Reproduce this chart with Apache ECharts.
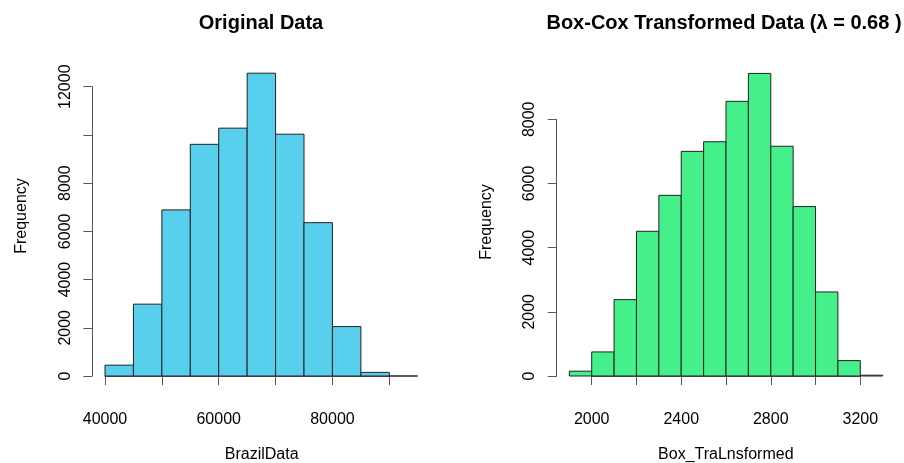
<!DOCTYPE html>
<html>
<head>
<meta charset="utf-8">
<script src="https://cdn.jsdelivr.net/npm/echarts@6/dist/echarts.min.js"></script>
<style>
html,body{margin:0;padding:0;background:#fff;}
#chart{width:904px;height:463px;}
</style>
</head>
<body>
<div id="chart"></div>
<script>
// ---- Data ----
const leftTitle = 'Original Data';
const rightTitle = 'Box-Cox Transformed Data (λ = 0.68 )';
const leftXName = 'BrazilData';
const rightXName = 'Box_TraLnsformed';
const yName = 'Frequency';

const leftBreaks = [40000, 45000, 50000, 55000, 60000, 65000, 70000, 75000, 80000, 85000, 90000, 95000];
const leftCounts = [450, 2980, 6890, 9610, 10280, 12560, 10030, 6360, 2050, 150, 0];

const rightBreaks = [1900, 2000, 2100, 2200, 2300, 2400, 2500, 2600, 2700, 2800, 2900, 3000, 3100, 3200, 3300];
const rightCounts = [150, 750, 2380, 4510, 5630, 7000, 7300, 8560, 9430, 7160, 5280, 2620, 480, 25];

const leftXLabels = [40000, 60000, 80000];
const leftYLabels = [0, 2000, 4000, 6000, 8000, 12000];
const rightXLabels = [2000, 2400, 2800, 3200];
const rightYLabels = [0, 2000, 4000, 6000, 8000];

// ---- Build ----
function toBins(breaks, counts) {
  return counts.map((c, i) => [breaks[i], breaks[i + 1], c]);
}
const FONT = 'Liberation Sans, Arial, sans-serif';
const axisColor = '#5a5a5a';

function renderer(fill) {
  return function (params, api) {
    const p0 = api.coord([api.value(0), api.value(2)]);
    const p1 = api.coord([api.value(1), 0]);
    return {
      type: 'rect',
      shape: { x: p0[0], y: p0[1], width: p1[0] - p0[0], height: p1[1] - p0[1] },
      style: { fill: fill, stroke: '#222', lineWidth: 1 }
    };
  };
}
function labelFmt(list) {
  return function (v) { return list.indexOf(v) >= 0 ? String(v) : ''; };
}
function xAxisCfg(idx, min, max, interval, labels) {
  return {
    type: 'value', gridIndex: idx, min: min, max: max, interval: interval,
    offset: 13.3, splitLine: { show: false },
    axisLine: { show: true, lineStyle: { color: axisColor, width: 1 } },
    axisTick: { show: true, length: 9, lineStyle: { color: axisColor } },
    axisLabel: { color: '#000', fontSize: 16, fontFamily: FONT, margin: 22, formatter: labelFmt(labels) }
  };
}
function yAxisCfg(idx, max, offset, labels) {
  return {
    type: 'value', gridIndex: idx, min: 0, max: max, interval: 2000,
    offset: offset, splitLine: { show: false },
    axisLine: { show: true, lineStyle: { color: axisColor, width: 1 } },
    axisTick: { show: true, length: 9, lineStyle: { color: axisColor } },
    axisLabel: { color: '#000', fontSize: 16, fontFamily: FONT, rotate: 90, margin: 19, formatter: labelFmt(labels) }
  };
}

const chart = echarts.init(document.getElementById('chart'), null, { renderer: 'canvas' });
chart.setOption({
  backgroundColor: '#fff',
  animation: false,
  title: [
    { text: leftTitle, left: 261, top: 13, textAlign: 'center', padding: 0,
      textStyle: { fontSize: 20, fontWeight: 'bold', color: '#000', fontFamily: FONT } },
    { text: rightTitle, left: 724, top: 13, textAlign: 'center', padding: 0,
      textStyle: { fontSize: 20, fontWeight: 'bold', color: '#000', fontFamily: FONT } }
  ],
  grid: [
    { left: 105, top: 86.7, width: 284.3, height: 289.3 },
    { left: 591.7, top: 119.3, width: 268.6, height: 256.7 }
  ],
  xAxis: [
    xAxisCfg(0, 40000, 90000, 10000, leftXLabels),
    xAxisCfg(1, 2000, 3200, 200, rightXLabels)
  ],
  yAxis: [
    yAxisCfg(0, 12000, 12.7, leftYLabels),
    yAxisCfg(1, 8000, 35, rightYLabels)
  ],
  graphic: [
    { type: 'text', x: 261.7, y: 455, style: { text: leftXName, font: '16px ' + FONT, fill: '#000', textAlign: 'center', textVerticalAlign: 'middle' } },
    { type: 'text', x: 725.8, y: 455, style: { text: rightXName, font: '16px ' + FONT, fill: '#000', textAlign: 'center', textVerticalAlign: 'middle' } },
    { type: 'text', x: 21.5, y: 216, rotation: Math.PI / 2, style: { text: yName, font: '16px ' + FONT, fill: '#000', textAlign: 'center', textVerticalAlign: 'middle' } },
    { type: 'text', x: 487, y: 222, rotation: Math.PI / 2, style: { text: yName, font: '16px ' + FONT, fill: '#000', textAlign: 'center', textVerticalAlign: 'middle' } }
  ],
  series: [
    { type: 'custom', xAxisIndex: 0, yAxisIndex: 0, clip: false,
      renderItem: renderer('#58CFEC'), encode: { x: [0, 1], y: 2 }, data: toBins(leftBreaks, leftCounts) },
    { type: 'custom', xAxisIndex: 1, yAxisIndex: 1, clip: false,
      renderItem: renderer('#45EF8A'), encode: { x: [0, 1], y: 2 }, data: toBins(rightBreaks, rightCounts) }
  ]
});
</script>
</body>
</html>
